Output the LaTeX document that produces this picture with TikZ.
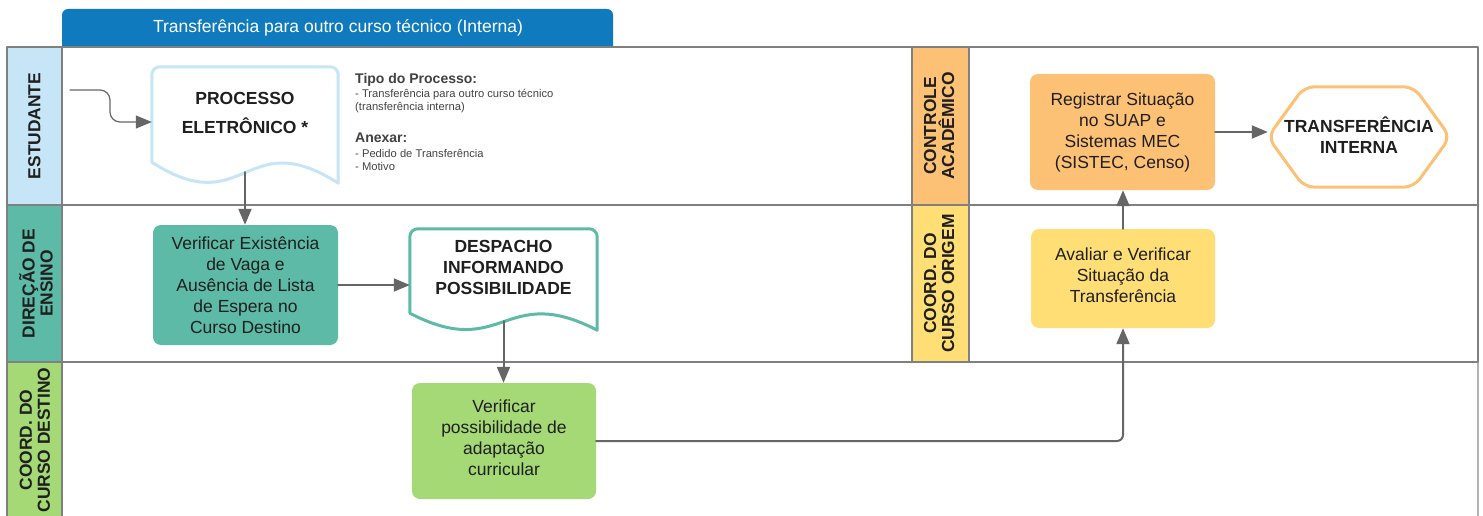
\documentclass[tikz,border=0pt]{standalone}
\usepackage{fontspec}
\setmainfont{Liberation Sans}
\usetikzlibrary{arrows.meta}
\usetikzlibrary{calc}
\definecolor{raia}{HTML}{808080}
\definecolor{seta}{HTML}{666666}
\definecolor{azulclaro}{HTML}{C6E5F7}
\definecolor{azultitulo}{HTML}{0F7BBE}
\definecolor{verdeagua}{HTML}{5CBAA6}
\definecolor{verdeclaro}{HTML}{A5D975}
\definecolor{laranja}{HTML}{FDC175}
\definecolor{amarelo}{HTML}{FFDF75}
\definecolor{texto}{HTML}{1F1F1F}
\definecolor{nota}{HTML}{444444}

% documento com base ondulada
\newcommand{\documento}[3]{%
  \draw[#2, line width=3pt] (#1.south west) [rounded corners=8pt]-- (#1.north west) -- (#1.north east) [sharp corners]-- ($(#1.south east)+(0,#3)$)
    .. controls ($(#1.south)+(0,{-1.86*#3})$) and ($(#1.south)+(0,{2.86*#3})$) .. (#1.south west);}
% hexagono de fim
\newcommand{\hexagono}[2]{%
  \draw[#2, line width=3pt, rounded corners=10pt] (#1.west) -- ($(#1.north west)!0.2!(#1.north east)$) -- ($(#1.north east)!0.2!(#1.north west)$)
    -- (#1.east) -- ($(#1.south east)!0.2!(#1.south west)$) -- ($(#1.south west)!0.2!(#1.south east)$) -- cycle;}

\begin{document}
\begin{tikzpicture}[x=1pt, y=-1pt, line cap=round, line join=round, >=Triangle,
  raialinha/.style={draw=raia, line width=1.5pt},
  rotulo/.style={rotate=90, align=center, text=texto, inner sep=0pt, font=\bfseries\fontsize{17.4}{18}\selectfont},
  tarefa/.style={rounded corners=8pt, align=center, text=texto, inner sep=0pt, font=\fontsize{17.5}{21}\selectfont},
  doc/.style={align=center, text=texto, inner sep=0pt, font=\bfseries\fontsize{17.5}{21}\selectfont},
  fluxo/.style={->, draw=seta, line width=2pt, >={Triangle[length=16pt, width=13pt]}}]
  \useasboundingbox (0,0) rectangle (1483,516);

  % titulo
  \fill[azultitulo, rounded corners=6pt] (62,9) rectangle (613,60);
  \node[font=\fontsize{17.5}{21}\selectfont, text=white] (titulo) at (338,28) {Transferência para outro curso técnico (Interna)};

  % raias
  \fill[white] (7,47) rectangle (1478,516);
  \fill[azulclaro] (7,47) rectangle (62,205);
  \fill[verdeagua] (7,205) rectangle (62,362);
  \fill[verdeclaro] (7,362) rectangle (62,516);
  \fill[laranja] (912,47) rectangle (969,205);
  \fill[amarelo] (912,205) rectangle (969,362);
  \draw[raialinha] (7,516) -- (7,47) -- (1478,47) -- (1478,362);
  \draw[raialinha, draw=raia!60] (1478,362) -- (1478,516);
  \foreach \y in {205,362} \draw[raialinha] (7,\y) -- (1478,\y);
  \draw[raialinha] (62,47) -- (62,516);
  \foreach \x in {912,969} \draw[raialinha] (\x,47) -- (\x,362);

  \node[rotulo] (estudante) at (34.5,126) {ESTUDANTE};
  \node[rotulo] (direcao) at (36,283.5) {DIREÇÃO DE\\ENSINO};
  \node[rotulo] (destino) at (35,440) {COORD. DO\\CURSO DESTINO};
  \node[rotulo] (controle) at (939,126) {CONTROLE\\ACADÊMICO};
  \node[rotulo] (origem) at (939,283.5) {COORD. DO\\CURSO ORIGEM};

  % etapas
  \node[doc, text depth=4pt, minimum width=186pt, minimum height=95pt] (processo) at (245,114.5) {PROCESSO\\[8pt]ELETRÔNICO *};
  \node[tarefa, fill=verdeagua, minimum width=185pt, minimum height=120pt] (vaga) at (245.5,285)
    {Verificar Existência\\de Vaga e\\Ausência de Lista\\de Espera no\\Curso Destino};
  \node[doc, text depth=7pt, minimum width=187pt, minimum height=84pt] (despacho) at (503.5,271) {DESPACHO\\INFORMANDO\\POSSIBILIDADE};
  \node[tarefa, text depth=6pt, fill=verdeclaro, minimum width=184pt, minimum height=116pt] (adaptacao) at (504,441)
    {Verificar\\possibilidade de\\adaptação\\curricular};
  \node[tarefa, text depth=6pt, fill=amarelo, minimum width=184pt, minimum height=99pt] (avaliar) at (1123,278.5)
    {Avaliar e Verificar\\Situação da\\Transferência};
  \node[tarefa, fill=laranja, minimum width=185pt, minimum height=116pt] (registrar) at (1122.5,132)
    {Registrar Situação\\no SUAP e\\Sistemas MEC\\(SISTEC, Censo)};
  \node[doc, text depth=4pt, minimum width=182pt, minimum height=100pt] (transferencia) at (1359,137) {TRANSFERÊNCIA\\INTERNA};
  \documento{processo}{azulclaro}{21}
  \documento{despacho}{verdeagua}{17}
  \hexagono{transferencia}{laranja}

  % anotacoes
  \node[anchor=north west, align=left, inner sep=0pt, text=nota, font=\fontsize{11.2}{13.2}\selectfont] (tipo) at (355,73)
    {{\fontsize{14}{16}\selectfont\bfseries\color{texto!85} Tipo do Processo:}\\[1pt]- Transferência para outro curso técnico\\(transferência interna)};
  \node[anchor=north west, align=left, inner sep=0pt, text=nota, font=\fontsize{11.2}{13.2}\selectfont] (anexar) at (355,133)
    {{\fontsize{14}{16}\selectfont\bfseries\color{texto!85} Anexar:}\\[1pt]- Pedido de Transferência\\- Motivo};

  % fluxo
  \coordinate (inicio) at (70,90);
  \draw[fluxo, line width=1.2pt, rounded corners=10pt] (inicio) -- (110,90) -- (110,122) -- ($(processo.west)+(0,7.5)$);
  \draw[fluxo, shorten <=10pt] (processo.south) -- (processo.south |- vaga.north);
  \draw[fluxo] (vaga.east) -- (vaga.east -| despacho.west);
  \draw[fluxo, shorten <=8pt] (despacho.south) -- (despacho.south |- adaptacao.north);
  \draw[fluxo, rounded corners=6pt] (adaptacao.east) -| (avaliar.south);
  \draw[fluxo] (avaliar.north) -- (avaliar.north |- registrar.south);
  \draw[fluxo] (registrar.east) -- (registrar.east -| transferencia.west);
\end{tikzpicture}
\end{document}
